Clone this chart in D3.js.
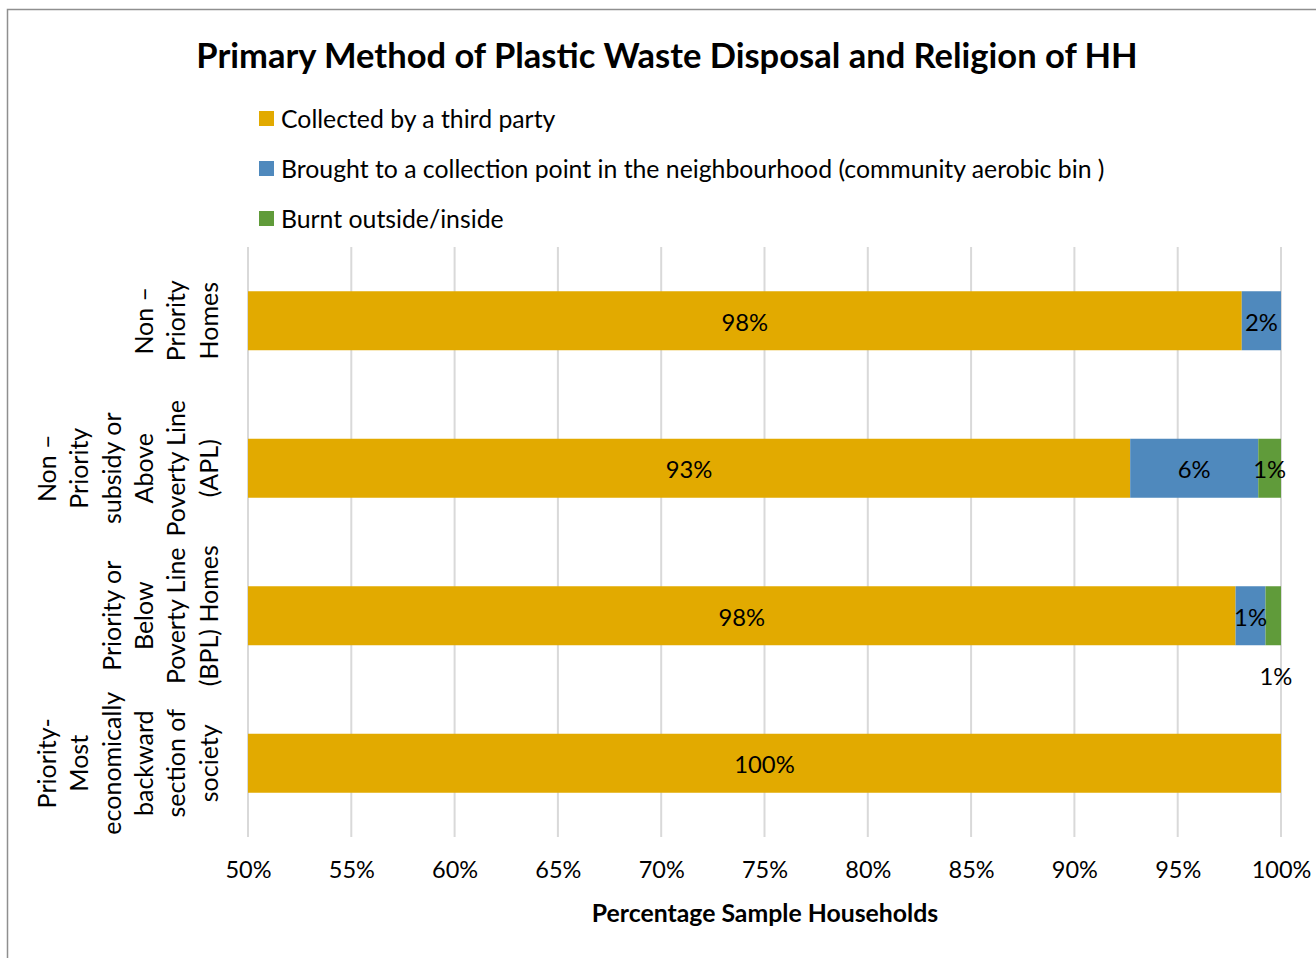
<!DOCTYPE html>
<html>
<head>
<meta charset="utf-8">
<script src="https://cdn.jsdelivr.net/npm/d3@7"></script>
<style>
  body { margin: 0; background: #fff; }
  text { font-family: Lato, "Open Sans", sans-serif; fill: #000; }
</style>
</head>
<body>
<script>
// chart data
const categories = [
    ["Non –", "Priority", "Homes"],
    ["Non –", "Priority", "subsidy or", "Above", "Poverty Line", "(APL)"],
    ["Priority or", "Below", "Poverty Line", "(BPL) Homes"],
    ["Priority-", "Most", "economically", "backward", "section of", "society"]
];
const seriesNames = [
    "Collected by a third party",
    "Brought to a collection point in the neighbourhood (community aerobic bin )",
    "Burnt outside/inside"
];
const collected = [98.1, 92.7, 97.8, 100];
const brought = [1.9, 6.2, 1.45, 0];
const burnt = [0, 1.1, 0.75, 0];
const xTicks = [50, 55, 60, 65, 70, 75, 80, 85, 90, 95, 100];
const colors = ["#E2AA00", "#4F89BD", "#609B3A"];

const W = 1316, H = 958;
const margin = {top: 247, right: 35, bottom: 121, left: 248};
const width = W - margin.left - margin.right,
    height = H - margin.top - margin.bottom;

const svg = d3.select("body").append("svg")
    .attr("width", W)
    .attr("height", H);

// outer chart frame
svg.append("rect")
    .attr("x", 7.5).attr("y", 9.5)
    .attr("width", 1400).attr("height", 1000)
    .attr("fill", "none")
    .attr("stroke", "#8f8f8f")
    .attr("stroke-width", 1.5);

svg.append("text")
    .attr("x", 667).attr("y", 54)
    .attr("text-anchor", "middle")
    .attr("dominant-baseline", "central")
    .style("font-size", "34.5px")
    .style("font-weight", "bold")
    .text("Primary Method of Plastic Waste Disposal and Religion of HH");

// legend
const legend = svg.selectAll(".legend")
    .data(seriesNames)
    .enter().append("g")
    .attr("class", "legend")
    .attr("transform", (d, i) => "translate(259," + (118 + i * 50) + ")");
legend.append("rect")
    .attr("x", 0).attr("y", -7)
    .attr("width", 15).attr("height", 15)
    .attr("fill", (d, i) => colors[i]);
legend.append("text")
    .attr("x", 22).attr("y", 0)
    .attr("dominant-baseline", "central")
    .style("font-size", "24.8px")
    .text(d => d);

const g = svg.append("g")
    .attr("transform", "translate(" + margin.left + "," + margin.top + ")");

const x = d3.scaleLinear().domain([50, 100]).range([0, width]);
const y = d3.scaleBand().domain(d3.range(categories.length)).range([0, height]).paddingInner(0.6).paddingOuter(0.3);

// gridlines
g.selectAll(".grid")
    .data(xTicks)
    .enter().append("line")
    .attr("x1", d => x(d)).attr("x2", d => x(d))
    .attr("y1", 0).attr("y2", height)
    .attr("stroke", "#d9d9d9")
    .attr("stroke-width", 2);

// stacked data
const rows = categories.map((c, i) => [collected[i], brought[i], burnt[i]]);
const stackData = rows.map((r, i) => {
    let start = 50;
    return r.map((v, k) => {
        const s = k === 0 ? 50 : start;
        const e = k === 0 ? v : start + v;
        start = e;
        return {row: i, k: k, v: v, x0: s, x1: e};
    }).filter(d => d.v > 0);
});
const segs = stackData.flat();

g.selectAll(".bar")
    .data(segs)
    .enter().append("rect")
    .attr("x", d => x(d.x0))
    .attr("y", d => y(d.row))
    .attr("width", d => x(d.x1) - x(d.x0))
    .attr("height", y.bandwidth())
    .attr("fill", d => colors[d.k]);

// data labels
g.selectAll(".lbl")
    .data(segs)
    .enter().append("text")
    .attr("x", d => {
        const w = x(d.x1) - x(d.x0);
        return w < 18 ? x(d.x1) - 5 : (x(d.x0) + x(d.x1)) / 2;
    })
    .attr("y", d => {
        const w = x(d.x1) - x(d.x0);
        return w < 18 ? y(d.row) + y.bandwidth() + 31 : y(d.row) + y.bandwidth() / 2 + 1;
    })
    .attr("text-anchor", "middle")
    .attr("dominant-baseline", "central")
    .style("font-size", "23.8px")
    .text(d => Math.round(d.v) + "%");

// x axis
const xAxis = d3.axisBottom(x).tickValues(xTicks).tickFormat(d => d + "%").tickSize(0).tickPadding(24);
const xg = g.append("g")
    .attr("transform", "translate(0," + height + ")")
    .call(xAxis);
xg.select(".domain").remove();
xg.selectAll("text")
    .style("font-size", "23.5px")
    .style("font-family", "Lato, sans-serif");

// category labels, rotated
const lh = 32.4;
g.selectAll(".cat")
    .data(categories)
    .enter().append("text")
    .attr("transform", (d, i) => "translate(-39," + (y(i) + y.bandwidth() / 2) + ") rotate(-90)")
    .attr("text-anchor", "middle")
    .style("font-size", "25px")
    .each(function (lines) {
        const t = d3.select(this);
        lines.forEach((ln, j) => {
            t.append("tspan")
                .attr("x", 0)
                .attr("y", -(lines.length - 1 - j) * lh)
                .attr("dy", "0.35em")
                .text(ln);
        });
    });

svg.append("text")
    .attr("x", 765).attr("y", 912)
    .attr("text-anchor", "middle")
    .attr("dominant-baseline", "central")
    .style("font-size", "24.8px")
    .style("font-weight", "bold")
    .text("Percentage Sample Households");
</script>
</body>
</html>
